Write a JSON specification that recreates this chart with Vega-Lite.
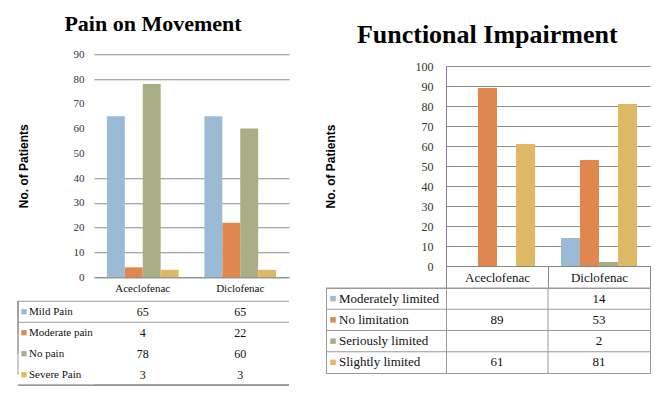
{
  "$schema": "https://vega.github.io/schema/vega-lite/v6.json",
  "background": "white",
  "padding": {"left": 17, "top": 13, "right": 0, "bottom": 0},
  "config": {
    "view": {"stroke": null},
    "axis": {"labelFont": "Liberation Serif", "titleFont": "Liberation Sans"}
  },
  "datasets": {
    "pain": [
      {"drug": "Aceclofenac", "series": "Mild Pain", "value": 65},
      {"drug": "Aceclofenac", "series": "Moderate pain", "value": 4},
      {"drug": "Aceclofenac", "series": "No pain", "value": 78},
      {"drug": "Aceclofenac", "series": "Severe Pain", "value": 3},
      {"drug": "Diclofenac", "series": "Mild Pain", "value": 65},
      {"drug": "Diclofenac", "series": "Moderate pain", "value": 22},
      {"drug": "Diclofenac", "series": "No pain", "value": 60},
      {"drug": "Diclofenac", "series": "Severe Pain", "value": 3}
    ],
    "func": [
      {"drug": "Aceclofenac", "series": "No limitation", "value": 89},
      {"drug": "Aceclofenac", "series": "Slightly limited", "value": 61},
      {"drug": "Diclofenac", "series": "Moderately limited", "value": 14},
      {"drug": "Diclofenac", "series": "No limitation", "value": 53},
      {"drug": "Diclofenac", "series": "Seriously limited", "value": 2},
      {"drug": "Diclofenac", "series": "Slightly limited", "value": 81}
    ]
  },
  "hconcat": [
    {
      "columns": 2,
      "bounds": "flush",
      "spacing": {"row": 24, "column": 0},
      "resolve": {"scale": {"color": "independent", "x": "independent", "y": "independent", "xOffset": "independent"}},
      "concat": [
        {
          "width": 76, "height": 223,
          "data": {"values": [{"t": ""}]},
          "mark": {"type": "text"},
          "encoding": {"text": {"field": "t"}}
        },
        {
          "width": 195, "height": 223,
          "title": {"text": "Pain on Movement", "frame": "bounds", "anchor": "middle", "font": "Liberation Serif", "fontSize": 22, "fontWeight": "bold", "color": "#000", "offset": 12},
          "data": {"name": "pain"},
          "mark": {"type": "bar"},
          "encoding": {
            "x": {"field": "drug", "type": "nominal", "scale": {"type": "band", "paddingInner": 0, "paddingOuter": 0},
              "axis": {"title": null, "labelAngle": 0, "labelFont": "Liberation Serif", "labelFontSize": 11, "labelColor": "#111", "ticks": false, "domainColor": "#888", "labelPadding": 5}},
            "xOffset": {"field": "series", "type": "nominal", "scale": {"type": "band", "domain": ["Mild Pain", "Moderate pain", "No pain", "Severe Pain"], "paddingInner": 0, "paddingOuter": 0.72}},
            "y": {"field": "value", "type": "quantitative", "scale": {"domain": [0, 90], "nice": false},
              "axis": {"title": "No. of Patients", "values": [0, 10, 20, 30, 40, 50, 60, 70, 80, 90], "grid": true, "gridColor": "#8c8c8c",
                "gridOpacity": {"condition": {"test": "datum.value >= 50 && datum.value <= 70", "value": 0}, "value": 1},
                "domain": false, "ticks": false, "labelFont": "Liberation Serif", "labelFontSize": 11, "labelColor": "#333", "labelPadding": 10,
                "titleFont": "Liberation Sans", "titleFontSize": 12, "titleFontWeight": "bold", "titleColor": "#000", "titlePadding": 43}},
            "color": {"field": "series", "type": "nominal", "legend": null,
              "scale": {"domain": ["Mild Pain", "Moderate pain", "No pain", "Severe Pain"], "range": ["#9bbad6", "#e0874f", "#a9ae85", "#ddb865"]}}
          }
        },
        {
          "width": 76, "height": 84,
          "data": {"name": "pain"},
          "transform": [{"filter": "datum.drug === 'Aceclofenac'"}],
          "encoding": {
            "y": {"field": "series", "type": "nominal", "scale": {"domain": ["Mild Pain", "Moderate pain", "No pain", "Severe Pain"], "paddingInner": 0, "paddingOuter": 0}, "axis": null}
          },
          "layer": [
            {
              "transform": [{"filter": {"field": "series", "oneOf": ["Mild Pain", "Moderate pain"]}}],
              "mark": {"type": "rule", "color": "#999", "strokeWidth": 1},
              "encoding": {"y": {"field": "series", "type": "nominal", "bandPosition": 0}}
            },
            {
              "mark": {"type": "rule", "color": "#999", "strokeWidth": 1},
              "encoding": {"y": {"datum": "Severe Pain", "type": "nominal", "bandPosition": 1}}
            },
            {
              "mark": {"type": "rule", "color": "#999", "strokeWidth": 1},
              "encoding": {"x": {"datum": "legend", "type": "nominal", "bandPosition": 0, "scale": {"type": "band", "domain": ["legend"], "paddingInner": 0, "paddingOuter": 0}, "axis": null}}
            },
            {
              "mark": {"type": "square", "size": 28, "opacity": 1, "xOffset": 6},
              "encoding": {
                "x": {"datum": "legend", "type": "nominal", "bandPosition": 0, "scale": {"type": "band", "domain": ["legend"], "paddingInner": 0, "paddingOuter": 0}, "axis": null},
                "color": {"field": "series", "type": "nominal", "legend": null,
                  "scale": {"domain": ["Mild Pain", "Moderate pain", "No pain", "Severe Pain"], "range": ["#9bbad6", "#e0874f", "#a9ae85", "#ddb865"]}}
              }
            },
            {
              "mark": {"type": "text", "align": "left", "baseline": "middle", "dx": 11, "font": "Liberation Serif", "fontSize": 11, "color": "#111"},
              "encoding": {
                "x": {"datum": "legend", "type": "nominal", "bandPosition": 0, "scale": {"type": "band", "domain": ["legend"], "paddingInner": 0, "paddingOuter": 0}, "axis": null},
                "text": {"field": "series"}
              }
            }
          ]
        },
        {
          "width": 195, "height": 84,
          "data": {"name": "pain"},
          "encoding": {
            "y": {"field": "series", "type": "nominal", "scale": {"domain": ["Mild Pain", "Moderate pain", "No pain", "Severe Pain"], "paddingInner": 0, "paddingOuter": 0}, "axis": null}
          },
          "layer": [
            {
              "transform": [{"filter": "datum.drug === 'Aceclofenac'"}, {"filter": {"field": "series", "oneOf": ["Mild Pain", "Moderate pain"]}}],
              "mark": {"type": "rule", "color": "#999", "strokeWidth": 1},
              "encoding": {"y": {"field": "series", "type": "nominal", "bandPosition": 0}}
            },
            {
              "mark": {"type": "rule", "color": "#999", "strokeWidth": 1},
              "encoding": {"y": {"datum": "Severe Pain", "type": "nominal", "bandPosition": 1}}
            },
            {
              "mark": {"type": "text", "align": "center", "baseline": "middle", "font": "Liberation Serif", "fontSize": 12, "color": "#111"},
              "encoding": {
                "x": {"field": "drug", "type": "nominal", "scale": {"type": "band", "paddingInner": 0, "paddingOuter": 0}, "axis": null},
                "text": {"field": "value", "type": "quantitative"}
              }
            }
          ]
        }
      ]
    },
    {
      "columns": 2,
      "bounds": "flush",
      "spacing": {"row": 22, "column": 0},
      "resolve": {"scale": {"color": "independent", "x": "independent", "y": "independent", "xOffset": "independent"}},
      "concat": [
        {
          "width": 120, "height": 200,
          "data": {"values": [{"t": ""}]},
          "mark": {"type": "text"},
          "encoding": {"text": {"field": "t"}}
        },
        {
          "width": 204, "height": 200,
          "title": {"text": "Functional Impairment", "frame": "bounds", "anchor": "middle", "font": "Liberation Serif", "fontSize": 26, "fontWeight": "bold", "color": "#000", "offset": 12},
          "data": {"name": "func"},
          "mark": {"type": "bar"},
          "encoding": {
            "x": {"field": "drug", "type": "nominal", "scale": {"type": "band", "paddingInner": 0, "paddingOuter": 0},
              "axis": {"title": null, "labelAngle": 0, "labelFont": "Liberation Serif", "labelFontSize": 13, "labelColor": "#111", "ticks": true, "tickBand": "extent", "tickSize": 22, "tickColor": "#888", "domainColor": "#888", "labelPadding": -17}},
            "xOffset": {"field": "series", "type": "nominal", "scale": {"type": "band", "domain": ["Moderately limited", "No limitation", "Seriously limited", "Slightly limited"], "paddingInner": 0, "paddingOuter": 0.68}},
            "y": {"field": "value", "type": "quantitative", "scale": {"domain": [0, 100], "nice": false},
              "axis": {"title": "No. of Patients", "values": [0, 10, 20, 30, 40, 50, 60, 70, 80, 90, 100], "grid": true, "gridColor": "#8c8c8c",
                "domain": true, "domainColor": "#888", "ticks": false, "labelFont": "Liberation Serif", "labelFontSize": 12, "labelColor": "#333", "labelPadding": 13,
                "titleFont": "Liberation Sans", "titleFontSize": 12, "titleFontWeight": "bold", "titleColor": "#000", "titlePadding": 78}},
            "color": {"field": "series", "type": "nominal", "legend": null,
              "scale": {"domain": ["Moderately limited", "No limitation", "Seriously limited", "Slightly limited"], "range": ["#9bbad6", "#e0874f", "#a9ae85", "#ddb865"]}}
          }
        },
        {
          "width": 120, "height": 85,
          "view": {"stroke": "#999", "strokeWidth": 1},
          "data": {"name": "func"},
          "transform": [{"aggregate": [{"op": "count", "as": "n"}], "groupby": ["series"]}],
          "encoding": {
            "y": {"field": "series", "type": "nominal", "scale": {"domain": ["Moderately limited", "No limitation", "Seriously limited", "Slightly limited"], "paddingInner": 0, "paddingOuter": 0}, "axis": null}
          },
          "layer": [
            {
              "mark": {"type": "rule", "color": "#999", "strokeWidth": 1},
              "encoding": {"y": {"field": "series", "type": "nominal", "bandPosition": 0}}
            },
            {
              "mark": {"type": "square", "size": 30, "opacity": 1, "xOffset": 7},
              "encoding": {
                "x": {"datum": "legend", "type": "nominal", "bandPosition": 0, "scale": {"type": "band", "domain": ["legend"], "paddingInner": 0, "paddingOuter": 0}, "axis": null},
                "color": {"field": "series", "type": "nominal", "legend": null,
                  "scale": {"domain": ["Moderately limited", "No limitation", "Seriously limited", "Slightly limited"], "range": ["#9bbad6", "#e0874f", "#a9ae85", "#ddb865"]}}
              }
            },
            {
              "mark": {"type": "text", "align": "left", "baseline": "middle", "dx": 13, "font": "Liberation Serif", "fontSize": 13, "color": "#111"},
              "encoding": {
                "x": {"datum": "legend", "type": "nominal", "bandPosition": 0, "scale": {"type": "band", "domain": ["legend"], "paddingInner": 0, "paddingOuter": 0}, "axis": null},
                "text": {"field": "series"}
              }
            }
          ]
        },
        {
          "width": 204, "height": 85,
          "view": {"stroke": "#999", "strokeWidth": 1},
          "data": {"name": "func"},
          "encoding": {
            "y": {"field": "series", "type": "nominal", "scale": {"domain": ["Moderately limited", "No limitation", "Seriously limited", "Slightly limited"], "paddingInner": 0, "paddingOuter": 0}, "axis": null},
            "x": {"field": "drug", "type": "nominal", "scale": {"type": "band", "domain": ["Aceclofenac", "Diclofenac"], "paddingInner": 0, "paddingOuter": 0}, "axis": null}
          },
          "layer": [
            {
              "transform": [{"filter": "datum.drug === 'Diclofenac'"}],
              "mark": {"type": "rule", "color": "#999", "strokeWidth": 1},
              "encoding": {"y": {"field": "series", "type": "nominal", "bandPosition": 0}, "x": null}
            },
            {
              "transform": [{"filter": "datum.series === 'No limitation' && datum.drug === 'Diclofenac'"}],
              "mark": {"type": "rule", "color": "#999", "strokeWidth": 1},
              "encoding": {"x": {"field": "drug", "type": "nominal", "bandPosition": 0}, "y": null}
            },
            {
              "mark": {"type": "text", "align": "center", "baseline": "middle", "font": "Liberation Serif", "fontSize": 13, "color": "#111"},
              "encoding": {"text": {"field": "value", "type": "quantitative"}}
            }
          ]
        }
      ]
    }
  ],
  "spacing": 34,
  "center": true,
  "resolve": {"scale": {"color": "independent", "x": "independent", "y": "independent", "xOffset": "independent"}}
}
